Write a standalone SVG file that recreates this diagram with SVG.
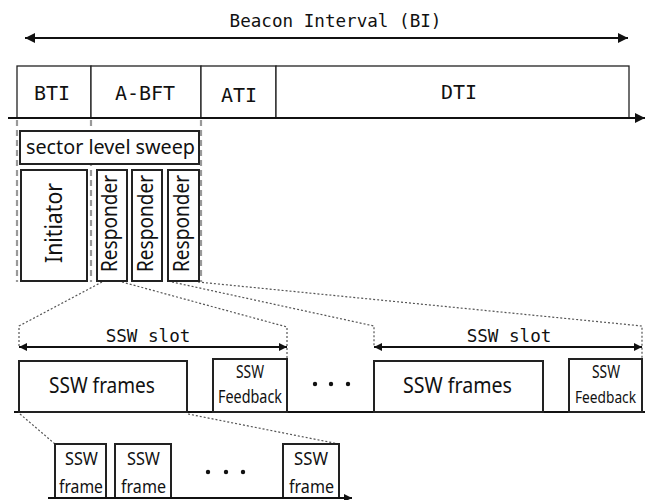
<svg xmlns="http://www.w3.org/2000/svg" width="645" height="500" viewBox="0 0 645 500">
<style>
.mono{font-family:"DejaVu Sans Mono","Liberation Mono",monospace;fill:#111}
.cond{font-family:"Noto Sans","DejaVu Sans",sans-serif;fill:#111}
.thin{fill:#fff;stroke:#222;stroke-width:1.3}
.box{fill:#fff;stroke:#222;stroke-width:2}
.axis{stroke:#111;stroke-width:2;fill:none}
.gdash{stroke:#999;stroke-width:2.2;stroke-dasharray:6,4;fill:none}
.dot{stroke:#555;stroke-width:1.2;stroke-dasharray:2,2;fill:none}
</style>
<defs>
<marker id="ah" viewBox="0 0 10 10" refX="10" refY="5" markerWidth="10" markerHeight="10" markerUnits="userSpaceOnUse" orient="auto-start-reverse">
<path d="M0,0 L10,5 L0,10 z" fill="#111"/>
</marker>
<marker id="ahs" viewBox="0 0 10 10" refX="10" refY="5" markerWidth="8" markerHeight="8" markerUnits="userSpaceOnUse" orient="auto-start-reverse">
<path d="M0,0 L10,5 L0,10 z" fill="#111"/>
</marker>
</defs>

<g id="connectors">
<line class="axis" x1="25" y1="38" x2="628" y2="38" marker-start="url(#ah)" marker-end="url(#ah)"/>
<line class="axis" x1="8" y1="118" x2="645" y2="118" marker-end="url(#ah)"/>
<line class="gdash" x1="17" y1="120" x2="17" y2="282"/>
<line class="gdash" x1="91" y1="120" x2="91" y2="282"/>
<line class="gdash" x1="201" y1="120" x2="201" y2="282"/>
<polyline class="dot" points="102,282 19,326 19,347"/>
<polyline class="dot" points="122,282 287,327 287,358"/>
<polyline class="dot" points="172,282 374,326 374,347"/>
<polyline class="dot" points="198,282 642,326 642,359"/>
<line class="axis" x1="19" y1="347" x2="287" y2="347" marker-start="url(#ahs)" marker-end="url(#ahs)"/>
<line class="axis" x1="374" y1="347" x2="642" y2="347" marker-start="url(#ahs)" marker-end="url(#ahs)"/>
<line class="axis" x1="14" y1="412" x2="645" y2="412"/>
<polyline class="dot" points="20,414 55,444"/>
<polyline class="dot" points="188,414 339,444"/>
<line class="axis" x1="48" y1="498" x2="352" y2="498" marker-end="url(#ahs)"/>
</g>

<g id="title"><text class="mono" x="335.5" y="27" font-size="17.6" text-anchor="middle">Beacon Interval (BI)</text></g>

<g id="bti"><rect class="thin" x="17" y="66" width="74" height="52"/><text class="mono" x="52" y="100" font-size="20" text-anchor="middle">BTI</text></g>
<g id="abft"><rect class="thin" x="91" y="66" width="110" height="52"/><text class="mono" x="145" y="100" font-size="20" text-anchor="middle">A-BFT</text></g>
<g id="ati"><rect class="thin" x="201" y="66" width="75" height="52"/><text class="mono" x="239" y="101.5" font-size="20" text-anchor="middle">ATI</text></g>
<g id="dti"><rect class="thin" x="276" y="66" width="353" height="52"/><text class="mono" x="459" y="98.5" font-size="20" text-anchor="middle">DTI</text></g>
<line class="axis" x1="8" y1="118" x2="636" y2="118"/>

<g id="sls"><rect class="box" x="20" y="131" width="179" height="33"/><text class="cond" x="26" y="154" font-size="20.5" textLength="169" lengthAdjust="spacingAndGlyphs">sector level sweep</text></g>
<g id="initiator"><rect class="box" x="21" y="170" width="66" height="111"/><text class="cond" transform="translate(62,223) rotate(-90)" font-size="23" text-anchor="middle" textLength="80" lengthAdjust="spacingAndGlyphs">Initiator</text></g>
<g id="resp1"><rect class="box" x="97" y="170" width="30" height="111"/><text class="cond" transform="translate(117,223.5) rotate(-90)" font-size="21.5" text-anchor="middle" textLength="97" lengthAdjust="spacingAndGlyphs">Responder</text></g>
<g id="resp2"><rect class="box" x="132" y="170" width="30" height="111"/><text class="cond" transform="translate(152.5,223.5) rotate(-90)" font-size="21.5" text-anchor="middle" textLength="97" lengthAdjust="spacingAndGlyphs">Responder</text></g>
<g id="resp3"><rect class="box" x="168" y="170" width="31" height="111"/><text class="cond" transform="translate(188.5,223.5) rotate(-90)" font-size="21.5" text-anchor="middle" textLength="97" lengthAdjust="spacingAndGlyphs">Responder</text></g>

<g id="slot1label"><text class="mono" x="148" y="342" font-size="17.6" text-anchor="middle">SSW slot</text></g>
<g id="slot2label"><text class="mono" x="509" y="342" font-size="17.6" text-anchor="middle">SSW slot</text></g>

<g id="frames1"><rect class="box" x="19" y="361" width="168" height="51"/><text class="cond" x="49" y="393" font-size="21.5" textLength="106" lengthAdjust="spacingAndGlyphs">SSW frames</text></g>
<g id="fb1"><rect class="box" x="213" y="359" width="74" height="53"/><text class="cond" x="236" y="378" font-size="18" textLength="28" lengthAdjust="spacingAndGlyphs">SSW</text><text class="cond" x="218" y="403" font-size="18" textLength="64" lengthAdjust="spacingAndGlyphs">Feedback</text></g>
<g id="dots1"><circle cx="315" cy="384" r="2.2" fill="#111"/><circle cx="331" cy="384" r="2.2" fill="#111"/><circle cx="348" cy="384" r="2.2" fill="#111"/></g>
<g id="frames2"><rect class="box" x="374" y="361" width="169" height="51"/><text class="cond" x="403" y="393" font-size="21.5" textLength="109" lengthAdjust="spacingAndGlyphs">SSW frames</text></g>
<g id="fb2"><rect class="box" x="569" y="359" width="73" height="53"/><text class="cond" x="606" y="378" font-size="18" text-anchor="middle" textLength="28" lengthAdjust="spacingAndGlyphs">SSW</text><text class="cond" x="605.5" y="403" font-size="16.5" text-anchor="middle" textLength="61" lengthAdjust="spacingAndGlyphs">Feedback</text></g>

<g id="f1"><rect class="box" x="55" y="444" width="51" height="54"/><text class="cond" x="65" y="465" font-size="18" textLength="33" lengthAdjust="spacingAndGlyphs">SSW</text><text class="cond" x="59" y="493" font-size="18" textLength="44" lengthAdjust="spacingAndGlyphs">frame</text></g>
<g id="f2"><rect class="box" x="115" y="444" width="56" height="54"/><text class="cond" x="127" y="465" font-size="18" textLength="33" lengthAdjust="spacingAndGlyphs">SSW</text><text class="cond" x="121" y="493" font-size="18" textLength="45" lengthAdjust="spacingAndGlyphs">frame</text></g>
<g id="dots2"><circle cx="208" cy="472" r="2.2" fill="#111"/><circle cx="226" cy="472" r="2.2" fill="#111"/><circle cx="243" cy="472" r="2.2" fill="#111"/></g>
<g id="f3"><rect class="box" x="283" y="444" width="56" height="54"/><text class="cond" x="294" y="465" font-size="18" textLength="34" lengthAdjust="spacingAndGlyphs">SSW</text><text class="cond" x="289" y="493" font-size="18" textLength="45" lengthAdjust="spacingAndGlyphs">frame</text></g>
<line class="axis" x1="48" y1="498" x2="345" y2="498"/>
</svg>
